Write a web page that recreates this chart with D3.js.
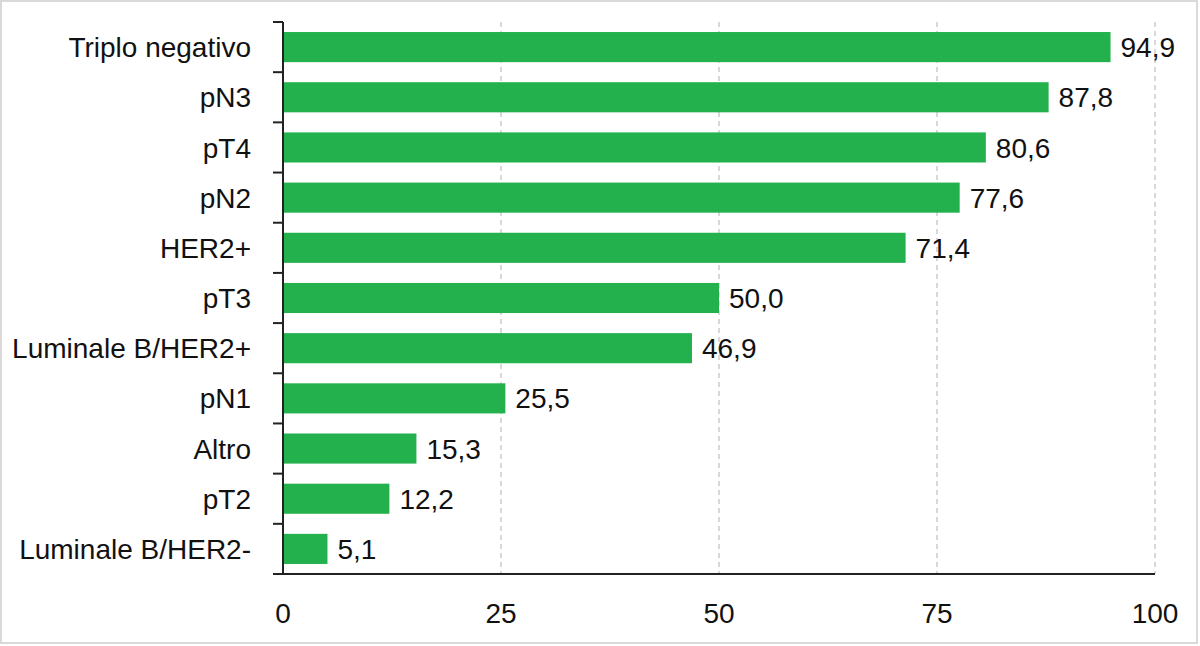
<!DOCTYPE html>
<html>
<head>
<meta charset="utf-8">
<script src="https://cdn.jsdelivr.net/npm/d3@7"></script>
<style>
  html, body { margin: 0; padding: 0; background: #fff; }
  svg { display: block; }
  text { font-family: "Liberation Sans", Arial, sans-serif; fill: #111; }
</style>
</head>
<body>
<svg id="chart" width="1200" height="646"></svg>
<script>
const categories = ["Triplo negativo", "pN3", "pT4", "pN2", "HER2+", "pT3", "Luminale B/HER2+", "pN1", "Altro", "pT2", "Luminale B/HER2-"];
const values = [94.9, 87.8, 80.6, 77.6, 71.4, 50.0, 46.9, 25.5, 15.3, 12.2, 5.1];
const xTicks = [0, 25, 50, 75, 100];

const svg = d3.select("#chart");
const fmt = v => v.toFixed(1).replace(".", ",");

svg.append("rect")
  .attr("x", 1).attr("y", 1).attr("width", 1196).attr("height", 642)
  .attr("fill", "#fff").attr("stroke", "#d9d9d9").attr("stroke-width", 2);

const x = d3.scaleLinear().domain([0, 100]).range([283, 1155]);
const y = d3.scaleBand().domain(categories).range([22, 574]).paddingInner(0.4).paddingOuter(0.2);

// gridlines
svg.append("g").selectAll("line").data(xTicks.filter(t => t > 0)).join("line")
  .attr("x1", d => x(d)).attr("x2", d => x(d))
  .attr("y1", 22).attr("y2", 574)
  .attr("stroke", "#bfbfbf").attr("stroke-width", 1.2).attr("stroke-dasharray", "5,4");

// bars
svg.append("g").selectAll("rect").data(categories).join("rect")
  .attr("x", x(0))
  .attr("y", d => y(d))
  .attr("width", (d, i) => x(values[i]) - x(0))
  .attr("height", y.bandwidth())
  .attr("fill", "#22b14c");

// value labels
svg.append("g").selectAll("text").data(categories).join("text")
  .attr("x", (d, i) => x(values[i]) + 10)
  .attr("y", d => y(d) + y.bandwidth() / 2)
  .attr("dy", "0.36em")
  .attr("font-size", 28)
  .text((d, i) => fmt(values[i]));

// y axis (category) with ticks at band boundaries
const yAxisG = svg.append("g");
yAxisG.append("line")
  .attr("x1", x(0)).attr("x2", x(0)).attr("y1", 22).attr("y2", 574)
  .attr("stroke", "#222").attr("stroke-width", 2);
const boundaries = categories.map(c => y(c) - y.step() * y.paddingInner() / 2).concat([574]);
yAxisG.selectAll("line.tick").data(boundaries).join("line")
  .attr("class", "tick")
  .attr("x1", x(0) - 10).attr("x2", x(0))
  .attr("y1", d => d).attr("y2", d => d)
  .attr("stroke", "#222").attr("stroke-width", 2);
yAxisG.selectAll("text").data(categories).join("text")
  .attr("x", 251)
  .attr("y", d => y(d) + y.bandwidth() / 2)
  .attr("dy", "0.36em")
  .attr("text-anchor", "end")
  .attr("font-size", 28)
  .text(d => d);

// x axis
const xAxisG = svg.append("g");
xAxisG.append("line")
  .attr("x1", x(0) - 10).attr("x2", x(100)).attr("y1", 574).attr("y2", 574)
  .attr("stroke", "#222").attr("stroke-width", 2);
xAxisG.selectAll("text").data(xTicks).join("text")
  .attr("x", d => x(d))
  .attr("y", 623)
  .attr("text-anchor", "middle")
  .attr("font-size", 28)
  .text(d => d);
</script>
</body>
</html>
